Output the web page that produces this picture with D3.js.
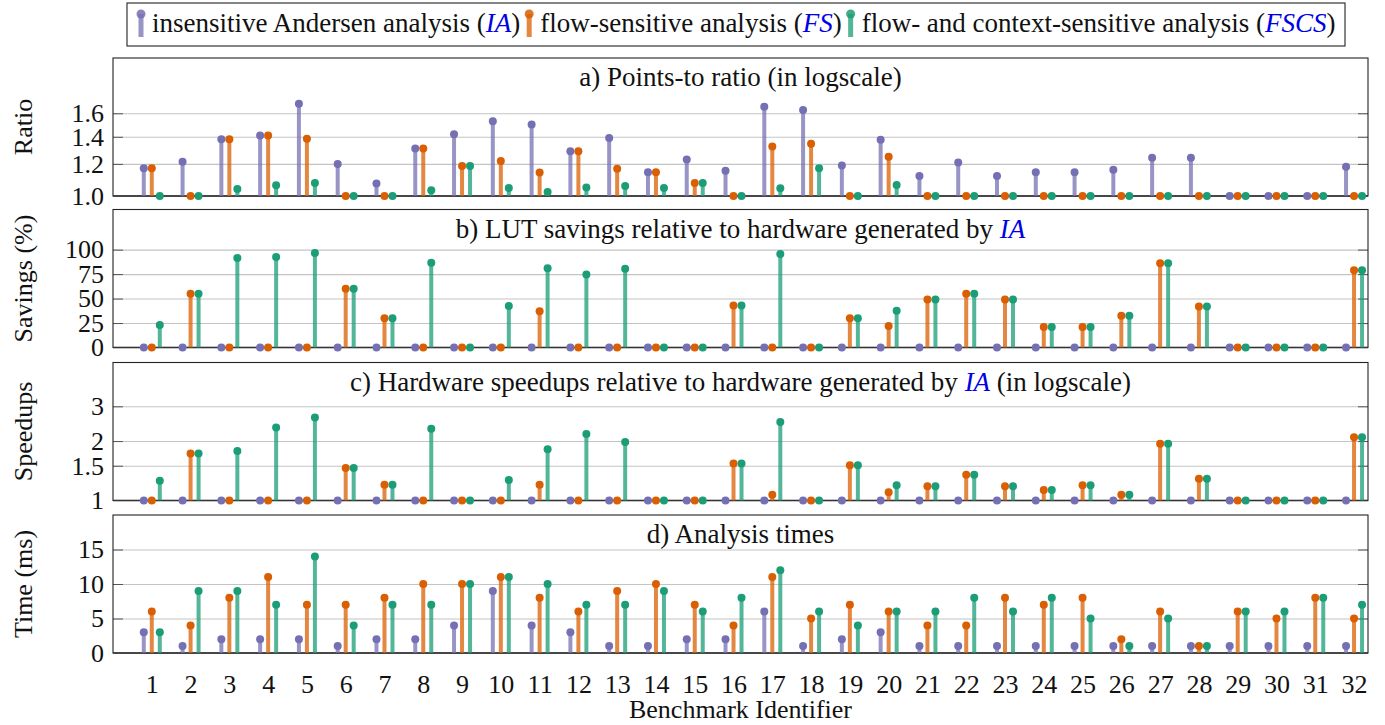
<!DOCTYPE html>
<html>
<head>
<meta charset="utf-8">
<script src="https://cdn.jsdelivr.net/npm/d3@7"></script>
<style>
  body { margin: 0; background: #fff; }
</style>
</head>
<body>
<script>
// benchmark ids
const categories = [1,2,3,4,5,6,7,8,9,10,11,12,13,14,15,16,17,18,19,20,21,22,23,24,25,26,27,28,29,30,31,32];

// a) points-to ratio
const ratioIA   = [1.17,1.215,1.38,1.41,1.69,1.20,1.073,1.31,1.42,1.53,1.50,1.29,1.39,1.145,1.23,1.154,1.66,1.63,1.19,1.376,1.12,1.21,1.12,1.145,1.145,1.16,1.243,1.243,1.0,1.0,1.0,1.18];
const ratioFS   = [1.17,1.0,1.38,1.41,1.384,1.0,1.0,1.31,1.185,1.22,1.143,1.29,1.167,1.145,1.077,1.0,1.324,1.345,1.0,1.25,1.0,1.0,1.0,1.0,1.0,1.0,1.0,1.0,1.0,1.0,1.0,1.0];
const ratioFSCS = [1.0,1.0,1.04,1.063,1.077,1.0,1.0,1.033,1.185,1.047,1.023,1.049,1.059,1.047,1.077,1.0,1.045,1.17,1.0,1.065,1.0,1.0,1.0,1.0,1.0,1.0,1.0,1.0,1.0,1.0,1.0,1.0];

// b) LUT savings (%)
const savingsIA   = [0,0,0,0,0,0,0,0,0,0,0,0,0,0,0,0,0,0,0,0,0,0,0,0,0,0,0,0,0,0,0,0];
const savingsFS   = [0,55,0,0,0,60,30,0,0,0,37,0,0,0,0,43,0,0,30,22,49,55,49,21,21,32.5,86,42,0,0,0,79];
const savingsFSCS = [23,55,91.5,92.5,96.5,60,30,86.5,0,42.5,81,74.5,80.5,0,0,43,95.5,0,30,37.5,49,55,49,21,21,32.5,86,42,0,0,0,79];

// c) hardware speedups
const speedupIA   = [1,1,1,1,1,1,1,1,1,1,1,1,1,1,1,1,1,1,1,1,1,1,1,1,1,1,1,1,1,1,1,1];
const speedupFS   = [1,1.73,1,1,1,1.46,1.2,1,1,1,1.2,1,1,1,1,1.54,1.07,1,1.51,1.10,1.18,1.35,1.18,1.13,1.195,1.07,1.94,1.29,1,1,1,2.09];
const speedupFSCS = [1.26,1.73,1.78,2.34,2.63,1.46,1.2,2.31,1,1.27,1.82,2.17,1.98,1,1,1.54,2.5,1,1.51,1.195,1.18,1.35,1.18,1.13,1.195,1.07,1.94,1.29,1,1,1,2.09];

// d) analysis times (ms)
const timeIA   = [3,1,2,2,2,1,2,2,4,9,4,3,1,1,2,2,6,1,2,3,1,1,1,1,1,1,1,1,1,1,1,1];
const timeFS   = [6,4,8,11,7,7,8,10,10,11,8,6,9,10,7,4,11,5,7,6,4,4,8,7,8,2,6,1,6,5,8,5];
const timeFSCS = [3,9,9,7,14,4,7,7,10,11,10,7,7,9,6,8,12,6,4,6,6,8,6,8,5,1,5,1,6,6,8,7];

const legendLabels = [
  ["insensitive Andersen analysis (", "IA", ")"],
  ["flow-sensitive analysis (", "FS", ")"],
  ["flow- and context-sensitive analysis (", "FSCS", ")"]
];
const colors = ["#7570b3", "#d95f02", "#1b9e77"];

const width = 1385, height = 725;
const left = 113, right = 1368;
const panelTops = [58, 209.5, 362.5, 515];
const panelH = 138;
const fs = 26;      // ticks, axis labels
const fsBig = 27;   // titles, legend
const serif = "'Liberation Serif'";

const svg = d3.select("body").append("svg")
  .attr("width", width)
  .attr("height", height);

const x = d3.scaleLinear().domain([0, 32.36]).range([left, right]);
const offsets = [-8, 0, 8];

const panels = [
  { title: [["a) Points-to ratio (in logscale)"]], ylabel: "Ratio", log: true,
    domain: [1, 2.19], ticks: [1.0, 1.2, 1.4, 1.6], fmt: d3.format(".1f"),
    series: [ratioIA, ratioFS, ratioFSCS] },
  { title: [["b) LUT savings relative to hardware generated by "], ["IA", true]], ylabel: "Savings (%)", log: false,
    domain: [0, 141], ticks: [0, 25, 50, 75, 100], fmt: d3.format("d"),
    series: [savingsIA, savingsFS, savingsFSCS] },
  { title: [["c) Hardware speedups relative to hardware generated by "], ["IA", true], [" (in logscale)"]], ylabel: "Speedups", log: true,
    domain: [1, 5], ticks: [1, 1.5, 2, 3], fmt: d => String(d),
    series: [speedupIA, speedupFS, speedupFSCS] },
  { title: [["d) Analysis times"]], ylabel: "Time (ms)", log: false,
    domain: [0, 20], ticks: [0, 5, 10, 15], fmt: d3.format("d"),
    series: [timeIA, timeFS, timeFSCS] }
];

panels.forEach((p, pi) => {
  const top = panelTops[pi], bottom = top + panelH;
  const y = (p.log ? d3.scaleLog() : d3.scaleLinear()).domain(p.domain).range([bottom, top]);
  const g = svg.append("g");

  // grid
  g.append("g")
    .attr("transform", "translate(" + left + ",0)")
    .call(d3.axisLeft(y).tickValues(p.ticks.slice(1)).tickSize(-(right - left)).tickFormat(""))
    .call(a => a.select(".domain").remove())
    .selectAll("line").attr("stroke", "#c4c4c4").attr("stroke-width", 1.1);

  // inner ticks both sides
  g.append("g")
    .attr("transform", "translate(" + left + ",0)")
    .call(d3.axisRight(y).tickValues(p.ticks.slice(1)).tickSize(10).tickFormat(""))
    .call(a => a.select(".domain").remove())
    .selectAll("line").attr("stroke", "#555");
  g.append("g")
    .attr("transform", "translate(" + right + ",0)")
    .call(d3.axisLeft(y).tickValues(p.ticks.slice(1)).tickSize(10).tickFormat(""))
    .call(a => a.select(".domain").remove())
    .selectAll("line").attr("stroke", "#555");

  // tick labels
  g.append("g")
    .attr("transform", "translate(" + left + ",0)")
    .call(d3.axisLeft(y).tickValues(p.ticks).tickSize(0).tickPadding(9).tickFormat(p.fmt))
    .call(a => a.select(".domain").remove())
    .attr("font-family", null)
    .selectAll("text")
    .attr("font-size", fs)
    .attr("fill", "#111")
    .style("font-family", serif);

  // frame
  g.append("rect")
    .attr("x", left).attr("y", top)
    .attr("width", right - left).attr("height", panelH)
    .attr("fill", "none").attr("stroke", "#222").attr("stroke-width", 1.1);
  g.append("line")
    .attr("x1", left).attr("x2", right)
    .attr("y1", y(p.domain[0])).attr("y2", y(p.domain[0]))
    .attr("stroke", "#333").attr("stroke-width", 1.6);

  // title
  const t = g.append("text")
    .attr("x", (left + right) / 2).attr("y", top + 28)
    .attr("text-anchor", "middle")
    .attr("font-size", fsBig)
    .attr("fill", "#111")
    .style("font-family", serif);
  p.title.forEach(part => {
    const ts = t.append("tspan").text(part[0]);
    if (part[1]) ts.attr("font-style", "italic").attr("fill", "#0000e6");
  });

  // y label
  g.append("text")
    .attr("transform", "translate(32," + (top + panelH / 2) + ") rotate(-90)")
    .attr("text-anchor", "middle")
    .attr("font-size", fs)
    .attr("fill", "#111")
    .style("font-family", serif)
    .text(p.ylabel);

  // stems then dots
  p.series.forEach((vals, si) => {
    g.append("g").selectAll("line")
      .data(vals).enter()
      .append("line")
      .attr("x1", (d, i) => x(categories[i]) + offsets[si])
      .attr("x2", (d, i) => x(categories[i]) + offsets[si])
      .attr("y1", y(p.domain[0]))
      .attr("y2", d => y(d))
      .attr("stroke", colors[si])
      .attr("stroke-opacity", 0.75)
      .attr("stroke-width", 4);
  });
  p.series.forEach((vals, si) => {
    g.append("g").selectAll("circle")
      .data(vals).enter()
      .append("circle")
      .attr("cx", (d, i) => x(categories[i]) + offsets[si])
      .attr("cy", d => y(d))
      .attr("r", 4)
      .attr("fill", colors[si]);
  });
});

// x axis labels
const lastBottom = panelTops[3] + panelH;
svg.append("g")
  .attr("transform", "translate(0," + lastBottom + ")")
  .call(d3.axisBottom(x).tickValues(categories).tickSize(0).tickPadding(22).tickFormat(d3.format("d")))
  .call(a => a.select(".domain").remove())
  .attr("font-family", null)
  .selectAll("text")
  .attr("font-size", fs)
  .attr("fill", "#111")
  .style("font-family", serif);

svg.append("text")
  .attr("x", (left + right) / 2).attr("y", 718)
  .attr("text-anchor", "middle")
  .attr("font-size", fs)
  .attr("fill", "#111")
  .style("font-family", serif)
  .text("Benchmark Identifier");

// legend
const legend = svg.append("g");
legend.append("rect")
  .attr("x", 127).attr("y", 3).attr("width", 1218).attr("height", 43)
  .attr("fill", "#fff").attr("stroke", "#222").attr("stroke-width", 1.1);
let lx = 141;
legendLabels.forEach((lab, i) => {
  legend.append("line")
    .attr("x1", lx).attr("x2", lx).attr("y1", 14).attr("y2", 37)
    .attr("stroke", colors[i]).attr("stroke-opacity", 0.75).attr("stroke-width", 5);
  legend.append("circle")
    .attr("cx", lx).attr("cy", 14).attr("r", 4.5).attr("fill", colors[i]).attr("fill-opacity", 0.85);
  const t = legend.append("text")
    .attr("x", lx + 11).attr("y", 32)
    .attr("font-size", fsBig)
    .attr("fill", "#111")
    .style("font-family", serif);
  t.append("tspan").text(lab[0]);
  t.append("tspan").text(lab[1]).attr("font-style", "italic").attr("fill", "#0000e6");
  t.append("tspan").text(lab[2]);
  lx = lx + 11 + t.node().getComputedTextLength() + 9;
});
</script>
</body>
</html>
